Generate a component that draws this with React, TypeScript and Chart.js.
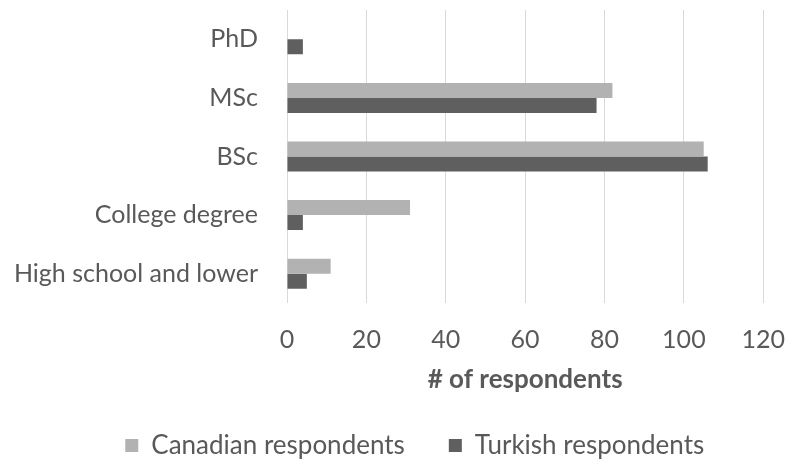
import React, { useEffect, useRef } from 'react';
import { Chart, registerables } from 'chart.js';

Chart.register(...registerables);

const categories = ['PhD', 'MSc', 'BSc', 'College degree', 'High school and lower'];
const canadianRespondents = [0, 82, 105, 31, 11];
const turkishRespondents = [4, 78, 106, 4, 5];
const seriesNames = ['Canadian respondents', 'Turkish respondents'];
const axisTitle = '# of respondents';
const xMin = 0;
const xMax = 120;
const xStep = 20;

const TEXT = '#595959';
const FAMILY = 'Lato';

const legendShift = {
  id: 'legendShift',
  afterLayout(chart: any) {
    const lg = chart.legend;
    if (lg) {
      lg.left = 45;
    }
  },
};

export default function App() {
  const ref = useRef<HTMLCanvasElement>(null);

  useEffect(() => {
    document.body.style.margin = '0';
    const chart = new Chart(ref.current as HTMLCanvasElement, {
      type: 'bar',
      data: {
        labels: categories,
        datasets: [
          {
            label: seriesNames[0],
            data: canadianRespondents,
            backgroundColor: '#b2b2b2',
            categoryPercentage: 0.512,
            barPercentage: 1,
          },
          {
            label: seriesNames[1],
            data: turkishRespondents,
            backgroundColor: '#5f5f5f',
            categoryPercentage: 0.512,
            barPercentage: 1,
          },
        ],
      },
      options: {
        indexAxis: 'y',
        animation: false,
        responsive: false,
        layout: { padding: { left: 0, right: 22.5, top: 10, bottom: -6.5 } },
        scales: {
          x: {
            min: xMin,
            max: xMax,
            ticks: { stepSize: xStep, color: TEXT, font: { family: FAMILY, size: 25 }, padding: 22 },
            grid: { color: '#d9d9d9', drawTicks: false },
            border: { display: false },
            title: {
              display: true,
              text: axisTitle,
              color: TEXT,
              font: { family: FAMILY, size: 26, weight: 'bold' },
              padding: { top: 0, bottom: -6.5 },
            },
            afterFit: (s: any) => {
              s.height = 85.5;
            },
          },
          y: {
            grid: { display: false, drawTicks: false },
            border: { display: false },
            ticks: { color: TEXT, font: { family: FAMILY, size: 25 }, padding: 29 },
            afterFit: (s: any) => {
              s.width = 287;
              s.paddingTop = 0;
              s.paddingBottom = 0;
            },
          },
        },
        plugins: {
          legend: {
            position: 'bottom',
            labels: { boxWidth: 13, boxHeight: 13, padding: 44, color: TEXT, font: { family: FAMILY, size: 26 } },
          },
          tooltip: { enabled: false },
        },
      },
      plugins: [legendShift],
    });
    return () => chart.destroy();
  }, []);

  return <canvas ref={ref} width={807} height={462} style={{ display: 'block' }} />;
}
